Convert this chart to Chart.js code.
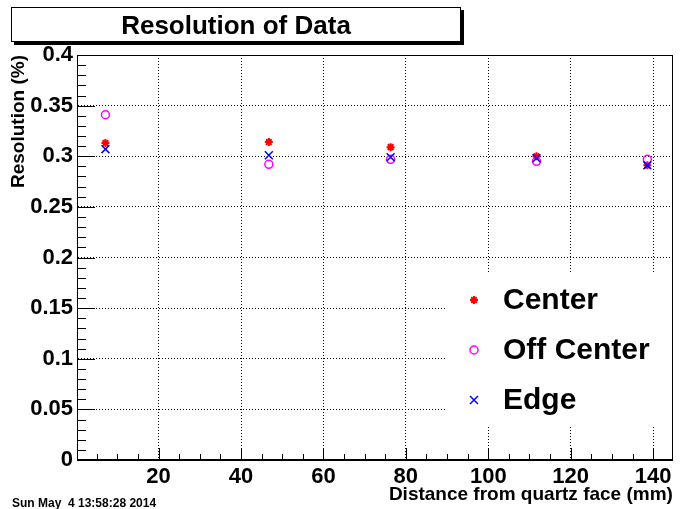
<!DOCTYPE html>
<html>
<head>
<meta charset="utf-8">
<script src="https://cdn.jsdelivr.net/npm/chart.js@4.4.1/dist/chart.umd.min.js"></script>
<style>
html,body{margin:0;padding:0;background:#fff;}
#wrap{width:680px;height:509px;}
</style>
</head>
<body>
<div id="wrap"><canvas id="c" width="680" height="509"></canvas></div>
<script>
// ---- data ----
const distances = [7.1, 46.75, 76.3, 111.7, 138.6];
const centerRes = [0.313, 0.314, 0.309, 0.300, 0.291];
const offCenterRes = [0.341, 0.292, 0.297, 0.295, 0.297];
const edgeRes = [0.307, 0.301, 0.299, 0.298, 0.291];
const xTickValues = [20, 40, 60, 80, 100, 120, 140];
const yTickValues = [0, 0.05, 0.1, 0.15, 0.2, 0.25, 0.3, 0.35, 0.4];
const seriesNames = ['Center', 'Off Center', 'Edge'];
const chartTitle = 'Resolution of Data';
const xTitle = 'Distance from quartz face (mm)';
const yTitle = 'Resolution (%)';
const dateStamp = 'Sun May  4 13:58:28 2014';

const FONT = '"Liberation Sans", Arial, Helvetica, sans-serif';
const toPts = ys => ys.map((y, i) => ({x: distances[i], y: y}));

function drawMarker(ctx, style, x, y) {
  ctx.save();
  if (style === 'star') {
    ctx.strokeStyle = '#ff0000'; ctx.lineWidth = 2;
    const r = 4, d = r * 0.707;
    ctx.beginPath();
    ctx.moveTo(x - r, y); ctx.lineTo(x + r, y);
    ctx.moveTo(x, y - r); ctx.lineTo(x, y + r);
    ctx.moveTo(x - d, y - d); ctx.lineTo(x + d, y + d);
    ctx.moveTo(x - d, y + d); ctx.lineTo(x + d, y - d);
    ctx.stroke();
  } else if (style === 'circle') {
    ctx.strokeStyle = '#ff00ff'; ctx.lineWidth = 1.5;
    ctx.beginPath(); ctx.arc(x, y, 4, 0, Math.PI * 2); ctx.stroke();
  } else {
    ctx.strokeStyle = '#0000ff'; ctx.lineWidth = 1.5;
    const d = 4;
    ctx.beginPath();
    ctx.moveTo(x - d, y - d); ctx.lineTo(x + d, y + d);
    ctx.moveTo(x - d, y + d); ctx.lineTo(x + d, y - d);
    ctx.stroke();
  }
  ctx.restore();
}

const decor = {
  id: 'decor',
  afterDatasetsDraw(chart) {
    const ctx = chart.ctx;
    // legend box (white, covers the grid)
    ctx.save();
    ctx.fillStyle = '#fff';
    ctx.fillRect(447, 274, 223, 153);
    const styles = ['star', 'circle', 'crossRot'];
    const ys = [300, 350, 400];
    ctx.fillStyle = '#000';
    ctx.font = 'bold 30px ' + FONT;
    ctx.textBaseline = 'middle';
    ctx.textAlign = 'left';
    for (let i = 0; i < 3; i++) {
      drawMarker(ctx, styles[i], 474, ys[i]);
      ctx.fillText(seriesNames[i], 503, ys[i] + 1);
    }
    ctx.restore();
  },
  afterDraw(chart) {
    const ctx = chart.ctx;
    const a = chart.chartArea;
    const xs = chart.scales.x, ysc = chart.scales.y;
    ctx.save();
    ctx.strokeStyle = '#000';
    ctx.lineWidth = 1;
    // frame
    ctx.strokeRect(Math.round(a.left) + 0.5, Math.round(a.top) + 0.5,
                   Math.round(a.right - a.left) - 1, Math.round(a.bottom - a.top) - 1);
    // inner tick marks x
    ctx.beginPath();
    for (let v = 5; v < xs.max; v += 5) {
      if (v < xs.min) continue;
      const px = Math.round(xs.getPixelForValue(v)) + 0.5;
      const len = (v % 20 === 0) ? 12 : 6;
      ctx.moveTo(px, a.bottom); ctx.lineTo(px, a.bottom - len);
    }
    // inner tick marks y
    for (let k = 0; k <= 40; k++) {
      const v = k / 100;
      const py = Math.round(ysc.getPixelForValue(v)) + 0.5;
      const len = (k % 5 === 0) ? 18 : 9;
      ctx.moveTo(a.left, py); ctx.lineTo(a.left + len, py);
    }
    ctx.stroke();
    // title pave with shadow
    ctx.fillStyle = '#000';
    ctx.fillRect(14, 10, 450, 35);
    ctx.fillStyle = '#fff';
    ctx.fillRect(11, 7, 450, 35);
    ctx.strokeRect(11.5, 7.5, 449, 34);
    ctx.fillStyle = '#000';
    ctx.font = 'bold 26px ' + FONT;
    ctx.textAlign = 'center';
    ctx.textBaseline = 'alphabetic';
    ctx.fillText(chartTitle, 236, 34);
    // date stamp
    ctx.font = 'bold 12px ' + FONT;
    ctx.textAlign = 'left';
    ctx.textBaseline = 'middle';
    ctx.fillText(dateStamp, 12, 504);
    ctx.restore();
  }
};

new Chart(document.getElementById('c'), {
  type: 'scatter',
  data: {
    datasets: [
      {label: seriesNames[0], data: toPts(centerRes), pointStyle: 'star', radius: 4,
       borderColor: '#ff0000', backgroundColor: '#ff0000', borderWidth: 2, order: 2},
      {label: seriesNames[1], data: toPts(offCenterRes), pointStyle: 'circle', radius: 4,
       borderColor: '#ff00ff', backgroundColor: 'rgba(0,0,0,0)', borderWidth: 1.5, order: 1},
      {label: seriesNames[2], data: toPts(edgeRes), pointStyle: 'crossRot', radius: 5.6,
       borderColor: '#0000ff', backgroundColor: '#0000ff', borderWidth: 1.5, order: 0}
    ]
  },
  options: {
    responsive: false,
    animation: false,
    events: [],
    layout: {padding: {top: 55, right: 4, left: 0, bottom: 0}},
    plugins: {legend: {display: false}, title: {display: false}, tooltip: {enabled: false}},
    scales: {
      x: {
        type: 'linear', min: 0.2, max: 144.8, offset: false,
        afterBuildTicks(s) { s.ticks = xTickValues.map(v => ({value: v})); },
        afterFit(s) { s.height = 49; },
        grid: {color: '#000', lineWidth: 1, drawTicks: false},
        border: {display: true, color: '#000', width: 1, dash: [1, 2]},
        ticks: {color: '#000', font: {family: FONT, size: 22, weight: 'bold'}, padding: 4, maxRotation: 0,
                callback: v => String(v)},
        title: {display: true, text: xTitle, align: 'end', color: '#000',
                font: {family: FONT, size: 19, weight: 'bold'}, padding: {top: 0, bottom: 3}}
      },
      y: {
        type: 'linear', min: 0, max: 0.4,
        afterBuildTicks(s) { s.ticks = yTickValues.map(v => ({value: v})); },
        afterFit(s) { s.width = 77; },
        grid: {color: '#000', lineWidth: 1, drawTicks: false},
        border: {display: true, color: '#000', width: 1, dash: [1, 2]},
        ticks: {color: '#000', font: {family: FONT, size: 22, weight: 'bold'}, padding: 4,
                callback: v => String(Math.round(v * 100) / 100)},
        title: {display: true, text: yTitle, align: 'end', color: '#000',
                font: {family: FONT, size: 19, weight: 'bold'}, padding: {top: 7, bottom: 0}}
      }
    }
  },
  plugins: [decor]
});
</script>
</body>
</html>
